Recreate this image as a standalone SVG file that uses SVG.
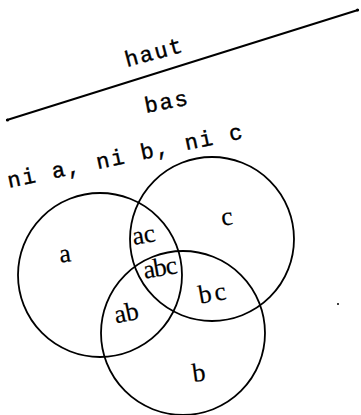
<svg xmlns="http://www.w3.org/2000/svg" width="361" height="415" viewBox="0 0 361 415">
<style>
.c{fill:none;stroke:#000;stroke-width:1.8}
.t{font-family:"Liberation Mono","Courier New",monospace;font-size:22px;letter-spacing:1.9px;fill:#000;stroke:#000;stroke-width:0.4}
.s{font-family:"Liberation Serif","Times New Roman",serif;font-size:26px;fill:#000;text-anchor:middle;stroke:#000;stroke-width:0.2}
</style>
<rect width="361" height="415" fill="#fff"/>
<g id="connectors">
<line x1="7" y1="120" x2="358" y2="10" stroke="#000" stroke-width="2" stroke-linecap="round"/>
<circle cx="7.5" cy="120" r="1.6" fill="#000"/>
<circle cx="357.5" cy="10" r="1.6" fill="#000"/>
</g>
<g id="haut"><text class="t" x="127" y="67" transform="rotate(-15 127 67)">haut</text></g>
<g id="bas"><text class="t" x="146" y="113" transform="rotate(-11 146 113)">bas</text></g>
<g id="ni"><text class="t" x="9" y="188" transform="rotate(-12 9 188)">ni a, ni b, ni c</text></g>
<g id="circle-a"><circle class="c" cx="100" cy="275" r="82"/><text class="s" x="66" y="262" transform="rotate(-8 66 262)">a</text></g>
<g id="circle-c"><circle class="c" cx="212" cy="239" r="82"/><text class="s" x="228" y="225" transform="rotate(-8 228 225)">c</text></g>
<g id="circle-b"><circle class="c" cx="183" cy="333" r="82"/><text class="s" x="200" y="381" transform="rotate(-8 200 381)">b</text></g>
<g id="ac"><text class="s" x="145" y="243" transform="rotate(-10 145 243)">ac</text></g>
<g id="abc"><text class="s" x="161" y="276" transform="rotate(-10 161 276)" letter-spacing="-1">abc</text></g>
<g id="ab"><text class="s" x="128" y="321" transform="rotate(-12 128 321)">ab</text></g>
<g id="bc"><text class="s" x="215" y="301" transform="rotate(-10 215 301)" letter-spacing="3">bc</text></g>
<circle cx="338" cy="304" r="1" fill="#000"/>
</svg>
